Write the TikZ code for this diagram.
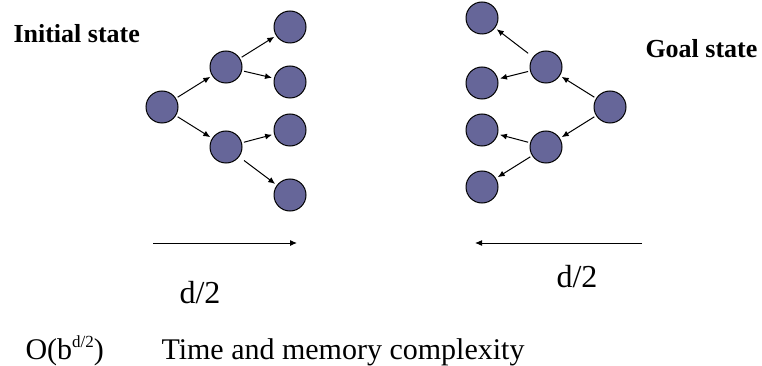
\documentclass[tikz,border=0pt]{standalone}
\usepackage{fontspec}
\setmainfont{Liberation Serif}
\usetikzlibrary{arrows.meta}
\definecolor{nodeblue}{RGB}{102,102,153}
\newcommand{\expo}[1]{\raisebox{12pt}{\fontsize{17}{17}\selectfont #1}}

\begin{document}
\begin{tikzpicture}[x=1pt, y=-1pt, line width=1pt,
  state/.style={circle, draw, fill=nodeblue, minimum size=32pt, inner sep=0pt},
  edge/.style={-{Latex[length=7pt,width=6pt]}, shorten <=2pt, shorten >=2pt},
  label/.style={anchor=base west, inner sep=0pt}]

\useasboundingbox (0,0) rectangle (762,366);

% forward tree from the start
\node[state] (r)  at (162,107) {};
\node[state] (a1) at (226,67)  {};
\node[state] (a2) at (226,147) {};
\node[state] (l1) at (290,27)  {};
\node[state] (l2) at (290,82)  {};
\node[state] (l3) at (290,130) {};
\node[state] (l4) at (290,195) {};
\foreach \a/\b in {r/a1, r/a2, a1/l1, a1/l2, a2/l3}
   {
	\draw[edge] (\a) -- (\b);
   };
\draw[edge, shorten <=6pt] (a2) -- (l4);

% backward tree from the goal
\node[state] (g)  at (610,107) {};
\node[state] (b1) at (546,67)  {};
\node[state] (b2) at (546,147) {};
\node[state] (m1) at (482,18)  {};
\node[state] (m2) at (482,83)  {};
\node[state] (m3) at (482,130) {};
\node[state] (m4) at (482,187) {};
\foreach \a/\b in {g/b1, g/b2, b1/m2, b2/m3, b2/m4}
   {
	\draw[edge] (\a) -- (\b);
   };
\draw[edge, shorten <=6pt] (b1) -- (m1);

\node[label, font=\bfseries\fontsize{26}{30}\selectfont] (init) at (13,43) {Initial state};
\node[label, font=\bfseries\fontsize{26}{30}\selectfont] (goal) at (645,58) {Goal state};

% search depth of each half
\coordinate (fwd1) at (153,243);
\coordinate (fwd2) at (297,243);
\coordinate (bwd1) at (642,243);
\coordinate (bwd2) at (475,243);
\draw[edge, shorten <=0pt, shorten >=0pt] (fwd1) -- (fwd2);
\draw[edge, shorten <=0pt, shorten >=0pt] (bwd1) -- (bwd2);
\node[label, font=\fontsize{32}{36}\selectfont] (dl) at (179,303) {d/2};
\node[label, font=\fontsize{32}{36}\selectfont] (dr) at (556,287) {d/2};

\node[label, font=\fontsize{30}{34}\selectfont] (order) at (25,359) {O(b\expo{d/2})};
\node[label, font=\fontsize{30}{34}\selectfont] (cost) at (161,359) {Time and memory complexity};
\end{tikzpicture}
\end{document}
